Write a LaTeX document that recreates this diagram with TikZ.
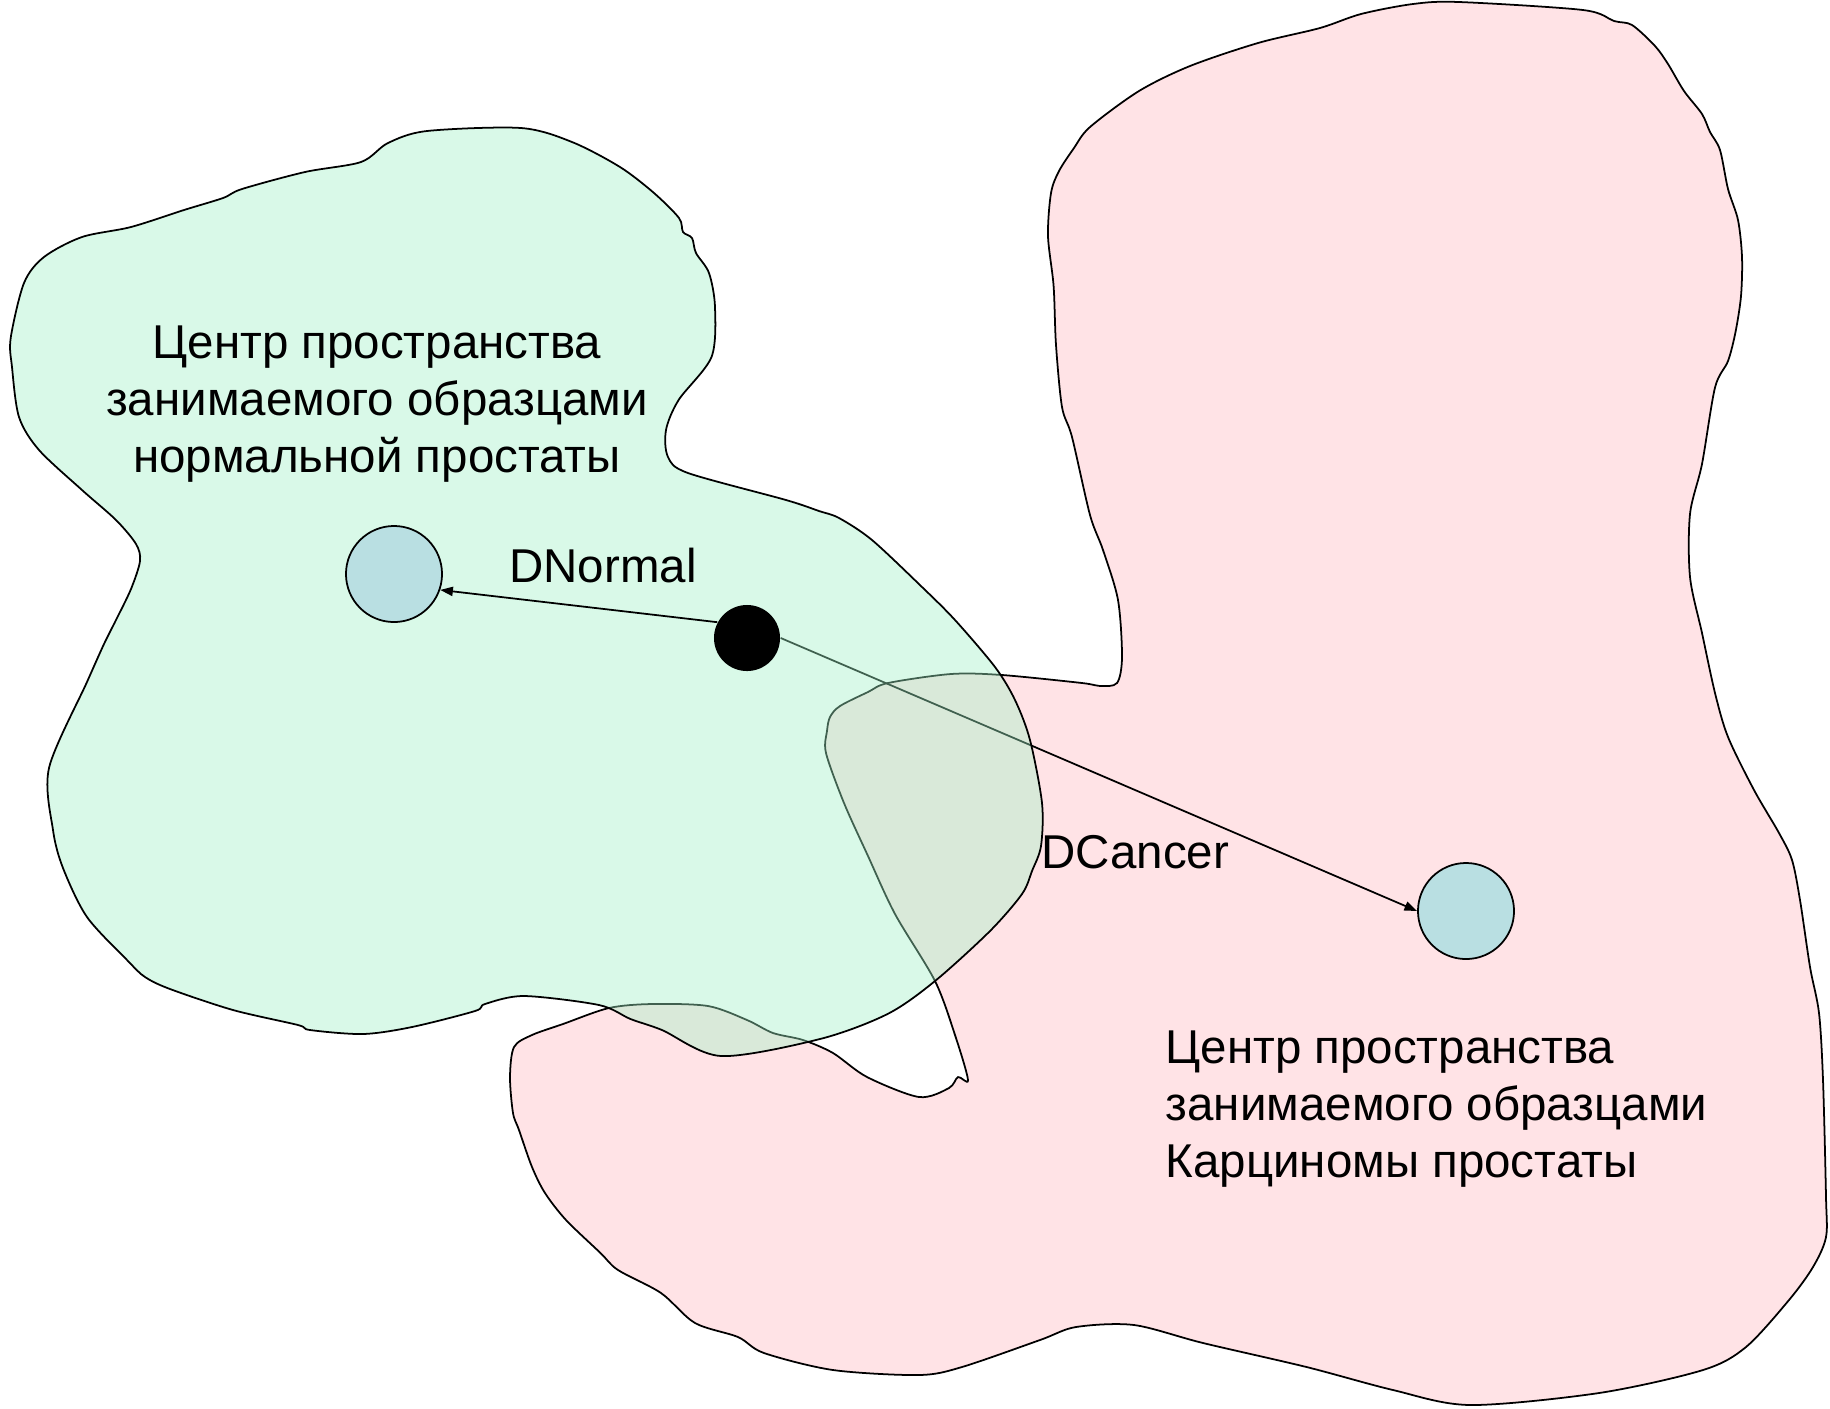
\documentclass[tikz,border=0pt]{standalone}
\usepackage{fontspec}
\setmainfont{Liberation Sans}
\usetikzlibrary{arrows.meta}
\pgfdeclarelayer{pinklayer}
\pgfdeclarelayer{midlayer}
\pgfdeclarelayer{greenlayer}
\pgfsetlayers{pinklayer,midlayer,greenlayer,main}
\definecolor{pinkfill}{RGB}{255,227,230}
\definecolor{greenfill}{RGB}{160,242,198}
\definecolor{centerfill}{RGB}{185,223,226}
\begin{document}
\begin{tikzpicture}[x=0.01cm,y=-0.01cm,
  blob/.style={draw=black, line width=0.5pt},
  ctrnode/.style={circle, draw=black, line width=0.5pt, fill=centerfill, minimum size=0.96cm, inner sep=0pt},
  dotnode/.style={circle, fill=black, minimum size=0.66cm, inner sep=0pt},
  txt/.style={font=\fontsize{13.5pt}{16.2pt}\selectfont, inner sep=0pt},
  arrowline/.style={line width=0.5pt, -{Triangle[length=3.6pt,width=2.6pt]}}]
\useasboundingbox (0,0) rectangle (1830,1408);
\begin{pgfonlayer}{pinklayer}
\fill[white] (0,0) rectangle (1830,1408);
\draw[blob, fill=pinkfill] plot[smooth cycle, tension=0.5] coordinates {
(968,1080) (955,1035) (935,981) (895,914) (868,856) (844,803) (826,753) (827,731) (830,717) (840,706) (868,692) (888,683) (951,674) (1002,675) (1082,683) (1100,686) (1117,683) (1122,657) (1118,600) (1103,550) (1090,515) (1072,437) (1062,407) (1056,345) (1053.6,286) (1048,236) (1051,193) (1059,171) (1074,148) (1090,127) (1139,91) (1190,66) (1258,43) (1320,28) (1361,14) (1413,4) (1459,2) (1583,10) (1614,21) (1632,25) (1655,46) (1668,64) (1684,91) (1702,114) (1710,132) (1720,150) (1728,189) (1738,220) (1742,257) (1741,296) (1735.5,332) (1728,361) (1715,387.5) (1702,464) (1690,514) (1690,577) (1702,633) (1715,693) (1728,737) (1754,790) (1779,833) (1792,860) (1800,900) (1810,967) (1819,1013) (1823,1080) (1826,1197) (1826,1237) (1813,1267) (1789,1300) (1746,1347) (1703,1370) (1599,1393) (1470,1405) (1393,1390) (1306.5,1367) (1203,1343) (1134,1325) (1076,1327) (1040,1340) (962,1367) (919,1375) (833,1370) (764,1353) (738,1337) (695,1323) (661,1293) (618,1270) (600.5,1253) (566,1220) (545,1193) (532,1167) (519,1130) (513,1113) (510,1077) (514,1047) (532,1035) (563,1024) (609,1008) (652,1004) (708,1006) (747,1020) (773,1033) (803,1040) (833,1053) (867,1077) (919,1097) (949,1088) (958,1077)};
\end{pgfonlayer}
\begin{pgfonlayer}{greenlayer}
\draw[blob, fill=greenfill, fill opacity=0.4] plot[smooth cycle, tension=0.5] coordinates {
(12,367) (10.7,338) (24,283) (44,257) (82,237) (131,227) (184,210) (223,198) (242,189) (305,172) (361,162) (388,143) (427,131) (521,128) (572,142) (620,167) (654,193) (679,218) (683,232) (692,238) (696,253) (709,273) (715,307) (711.5,357) (678.6,400) (666,430) (668,457) (688,473) (786,500) (819,511) (839,518) (872,540) (922,587) (955,620) (995,667) (1015,700) (1030,740) (1042,803) (1041,846) (1032,871) (1022,894) (990,931) (935,981) (887.5,1014) (820,1039) (721,1056) (662,1030) (630.5,1019) (599,1005) (524,996) (485,1004) (475,1011) (412,1027) (363,1034) (310,1030) (298,1025) (233,1010) (170,989) (145,977) (128,961) (87,917) (63,868) (53,830) (49,768) (87,682) (104,644) (116,620) (131,589) (140,561) (136,544) (116,520) (82,490) (39,450) (19,417)};
\end{pgfonlayer}
\node[ctrnode] (cn) at (394,574) {};
\node[ctrnode] (cc) at (1466,911) {};
\node[dotnode] (dot) at (747,638) {};
\node[txt, align=center, anchor=base] (tn) at (377,472) {Центр пространства\\занимаемого образцами\\нормальной простаты};
\node[txt, align=left, anchor=base west] (tc) at (1165,1177) {Центр пространства\\занимаемого образцами\\Карциномы простаты};
\node[txt, anchor=base] (ln) at (603,582) {DNormal};
\node[txt, anchor=base west] (lc) at (1041,868) {DCancer};
\draw[arrowline] (dot.152) -- (cn.-19);
\begin{pgfonlayer}{midlayer}
\draw[arrowline] (dot.east) -- (cc.west);
\end{pgfonlayer}
\end{tikzpicture}
\end{document}
